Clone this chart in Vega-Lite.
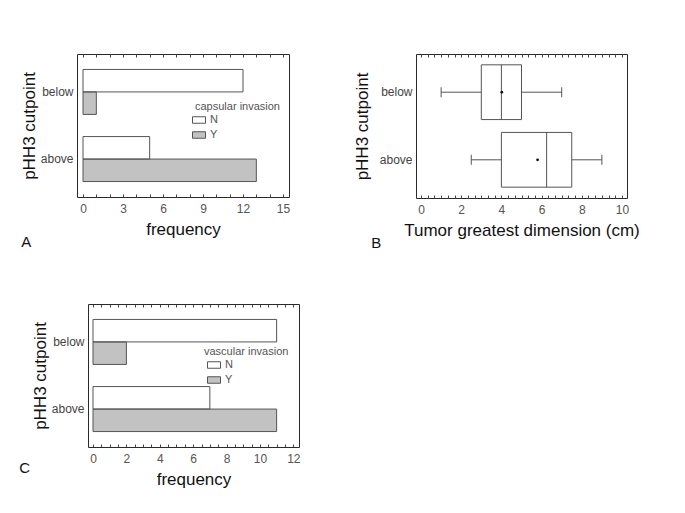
{
  "$schema": "https://vega.github.io/schema/vega-lite/v6.json",
  "background": "white",
  "padding": {"left": 19, "top": 53, "right": 5, "bottom": 5},
  "config": {
    "font": "Liberation Sans",
    "view": {"stroke": "#2a2a2a", "strokeWidth": 1},
    "axis": {"domain": false, "grid": false, "labelFont": "Liberation Sans", "labelFontSize": 12, "labelColor": "#555", "titleFont": "Liberation Sans", "titleFontSize": 17, "titleFontWeight": "normal", "titleColor": "#111", "tickColor": "#444", "tickWidth": 1, "domainColor": "#2a2a2a", "domainWidth": 1},
    "legend": {"titleFont": "Liberation Sans", "titleFontSize": 11, "titleFontWeight": "normal", "titleColor": "#555", "labelFont": "Liberation Sans", "labelFontSize": 11, "labelColor": "#555", "symbolType": "M-1,-0.5H1V0.5H-1Z", "symbolSize": 169, "symbolStrokeColor": "#555", "symbolStrokeWidth": 1, "orient": "none", "titlePadding": 1, "rowPadding": 2, "padding": 0},
    "title": {"font": "Liberation Sans", "fontSize": 15, "fontWeight": "normal", "color": "#111"}
  },
  "resolve": {"scale": {"fill": "independent"}, "legend": {"fill": "independent"}},
  "concat": [
    {
      "hconcat": [
        {
          "width": 212, "height": 143,
          "data": {"values": [
            {"pHH3": "below", "capsular": "N", "frequency": 12},
            {"pHH3": "below", "capsular": "Y", "frequency": 1},
            {"pHH3": "above", "capsular": "N", "frequency": 5},
            {"pHH3": "above", "capsular": "Y", "frequency": 13}
          ]},
          "title": {"text": "A", "orient": "bottom", "anchor": "start", "frame": "bounds", "offset": -2, "dx": 1, "baseline": "top"},
          "encoding": {
            "y": {"field": "pHH3", "type": "nominal", "sort": ["below", "above"], "scale": {"paddingInner": 0.33, "paddingOuter": 0.23}, "axis": {"title": "pHH3 cutpoint", "ticks": false, "labelPadding": 4, "titlePadding": 2, "labelColor": "#444"}},
            "yOffset": {"field": "capsular", "type": "nominal", "sort": ["N", "Y"]}
          },
          "layer": [
            {
              "mark": {"type": "bar", "strokeWidth": 0},
              "encoding": {
                "x": {"field": "frequency", "type": "quantitative", "stack": null, "scale": {"domain": [-0.45, 15.45], "nice": false, "zero": false},
                  "axis": {"orient": "bottom", "values": [0,1,2,3,4,5,6,7,8,9,10,11,12,13,14,15], "labelExpr": "datum.value % 3 === 0 ? format(datum.value, 'd') : ''", "tickSize": -3, "labelPadding": 9, "labelOverlap": false, "labelFlush": false, "title": "frequency", "titlePadding": 7}},
                "fill": {"field": "capsular", "type": "nominal", "sort": ["N", "Y"], "scale": {"domain": ["N", "Y"], "range": ["#ffffff", "#c2c2c2"]}, "legend": {"title": "capsular invasion", "legendX": 118, "legendY": 47, "symbolOffset": -3}}
              }
            },
            {
              "mark": {"type": "bar", "fillOpacity": 0, "stroke": "#555", "strokeWidth": 1},
              "encoding": {
                "x": {"field": "frequency", "type": "quantitative", "stack": null,
                  "axis": {"orient": "top", "values": [0,1,2,3,4,5,6,7,8,9,10,11,12,13,14,15], "labels": false, "tickSize": -3, "title": null}}
              }
            }
          ],
          "resolve": {"axis": {"x": "independent"}}
        },
        {
          "width": 211, "height": 144,
          "data": {"values": [
            {"pHH3": "below", "min": 1, "q1": 3, "median": 4, "q3": 5, "max": 7, "mean": 4.02},
            {"pHH3": "above", "min": 2.5, "q1": 4, "median": 6.25, "q3": 7.5, "max": 9, "mean": 5.8}
          ]},
          "title": {"text": "B", "orient": "bottom", "anchor": "start", "frame": "bounds", "offset": -2, "dx": 18, "baseline": "top"},
          "encoding": {
            "y": {"field": "pHH3", "type": "nominal", "sort": ["below", "above"], "scale": {"paddingInner": 0.19, "paddingOuter": 0.16}, "axis": {"title": "pHH3 cutpoint", "ticks": false, "labelPadding": 4, "titlePadding": 8, "labelColor": "#444"}}
          },
          "layer": [
            {
              "mark": {"type": "rule", "color": "#555", "strokeWidth": 1},
              "encoding": {
                "x": {"field": "min", "type": "quantitative", "scale": {"domain": [-0.25, 10.25], "nice": false, "zero": false},
                  "axis": {"orient": "bottom", "values": [0,0.333333,0.666667,1,1.333333,1.666667,2,2.333333,2.666667,3,3.333333,3.666667,4,4.333333,4.666667,5,5.333333,5.666667,6,6.333333,6.666667,7,7.333333,7.666667,8,8.333333,8.666667,9,9.333333,9.666667,10], "labelExpr": "datum.value % 2 === 0 ? format(datum.value, 'd') : ''", "tickSize": -3, "labelPadding": 9, "labelOverlap": false, "labelFlush": false, "title": "Tumor greatest dimension (cm)", "titlePadding": 7}},
                "x2": {"field": "max"}
              }
            },
            {
              "mark": {"type": "bar", "fill": "white", "stroke": "#555", "strokeWidth": 1},
              "encoding": {
                "x": {"field": "q1", "type": "quantitative",
                  "axis": {"orient": "top", "values": [0,0.333333,0.666667,1,1.333333,1.666667,2,2.333333,2.666667,3,3.333333,3.666667,4,4.333333,4.666667,5,5.333333,5.666667,6,6.333333,6.666667,7,7.333333,7.666667,8,8.333333,8.666667,9,9.333333,9.666667,10], "labels": false, "tickSize": -3, "title": null}},
                "x2": {"field": "q3"}
              }
            },
            {
              "mark": {"type": "tick", "color": "#555", "thickness": 1, "size": 55, "opacity": 1},
              "encoding": {"x": {"field": "median", "type": "quantitative", "axis": null}}
            },
            {
              "mark": {"type": "tick", "color": "#555", "thickness": 1, "size": 10, "opacity": 1},
              "encoding": {"x": {"field": "min", "type": "quantitative", "axis": null}}
            },
            {
              "mark": {"type": "tick", "color": "#555", "thickness": 1, "size": 10, "opacity": 1},
              "encoding": {"x": {"field": "max", "type": "quantitative", "axis": null}}
            },
            {
              "mark": {"type": "point", "filled": true, "color": "#111", "size": 8, "opacity": 1},
              "encoding": {"x": {"field": "mean", "type": "quantitative", "axis": null}}
            }
          ],
          "resolve": {"axis": {"x": "independent"}}
        }
      ],
      "spacing": 61
    },
    {
      "width": 222, "height": 143,
      "view": {"stroke": null},
      "data": {"values": [
        {"pHH3": "below", "vascular": "N", "frequency": 11},
        {"pHH3": "below", "vascular": "Y", "frequency": 2},
        {"pHH3": "above", "vascular": "N", "frequency": 7},
        {"pHH3": "above", "vascular": "Y", "frequency": 11}
      ]},
      "title": {"text": "C", "orient": "bottom", "anchor": "start", "frame": "bounds", "offset": -26, "dx": -12, "baseline": "top"},
      "encoding": {
        "yOffset": {"field": "vascular", "type": "nominal", "sort": ["N", "Y"]}
      },
      "layer": [
        {
          "mark": {"type": "bar", "strokeWidth": 0},
          "encoding": {
            "y": {"field": "pHH3", "type": "nominal", "sort": ["below", "above"], "scale": {"paddingInner": 0.33, "paddingOuter": 0.23}, "axis": {"orient": "left", "offset": -11, "domain": true, "title": "pHH3 cutpoint", "ticks": false, "labelPadding": 4, "titlePadding": 2, "labelColor": "#444"}},
            "x": {"field": "frequency", "type": "quantitative", "stack": null, "scale": {"domain": [-0.3, 12.34], "nice": false, "zero": false, "range": [11, 222]},
              "axis": {"orient": "bottom", "domain": true, "values": [0,0.5,1,1.5,2,2.5,3,3.5,4,4.5,5,5.5,6,6.5,7,7.5,8,8.5,9,9.5,10,10.5,11,11.5,12], "labelExpr": "datum.value % 2 === 0 ? format(datum.value, 'd') : ''", "tickSize": -3, "labelPadding": 9, "labelOverlap": false, "labelFlush": false, "title": "frequency", "titlePadding": 7}},
            "fill": {"field": "vascular", "type": "nominal", "sort": ["N", "Y"], "scale": {"domain": ["N", "Y"], "range": ["#ffffff", "#c2c2c2"]}, "legend": {"title": "vascular invasion", "legendX": 127, "legendY": 42, "symbolOffset": 3}}
          }
        },
        {
          "mark": {"type": "bar", "fillOpacity": 0, "stroke": "#555", "strokeWidth": 1},
          "encoding": {
            "y": {"field": "pHH3", "type": "nominal", "sort": ["below", "above"], "axis": {"orient": "right", "domain": true, "labels": false, "ticks": false, "title": null}},
            "x": {"field": "frequency", "type": "quantitative", "stack": null,
              "axis": {"orient": "top", "domain": true, "values": [0,0.5,1,1.5,2,2.5,3,3.5,4,4.5,5,5.5,6,6.5,7,7.5,8,8.5,9,9.5,10,10.5,11,11.5,12], "labels": false, "tickSize": -3, "title": null}}
          }
        }
      ],
      "resolve": {"axis": {"x": "independent", "y": "independent"}}
    }
  ],
  "columns": 1,
  "align": "none",
  "spacing": 51
}
